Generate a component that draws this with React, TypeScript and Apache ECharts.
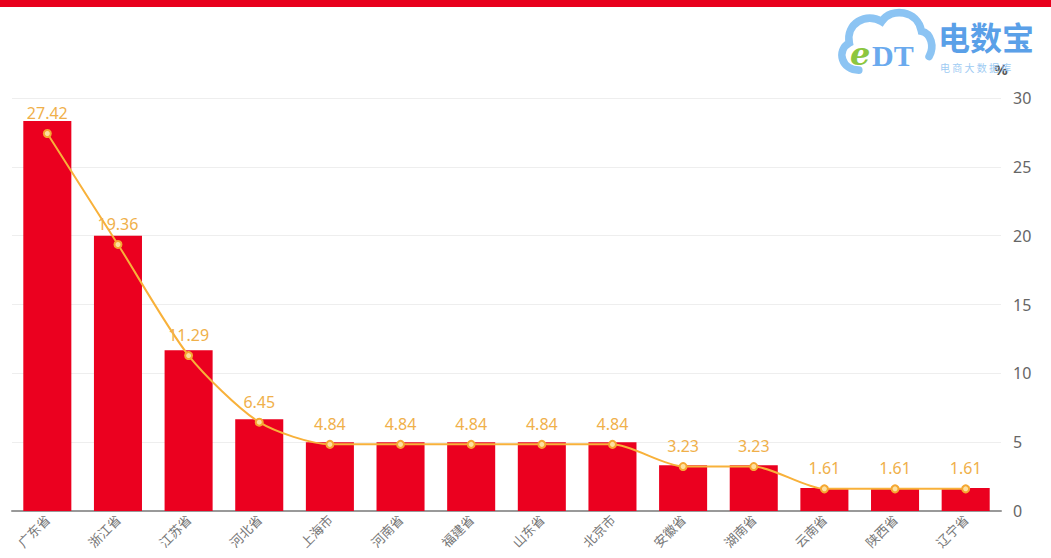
import React, { useEffect, useRef } from "react";
import * as echarts from "echarts";

const categories = ["广东省", "浙江省", "江苏省", "河北省", "上海市", "河南省", "福建省", "山东省", "北京市", "安徽省", "湖南省", "云南省", "陕西省", "辽宁省"];
const barValues = [28.33, 20, 11.67, 6.67, 5, 5, 5, 5, 5, 3.33, 3.33, 1.67, 1.67, 1.67];
const lineValues = [27.42, 19.36, 11.29, 6.45, 4.84, 4.84, 4.84, 4.84, 4.84, 3.23, 3.23, 1.61, 1.61, 1.61];
const yTicks = { min: 0, max: 30, interval: 5 };

const cloudD =
  "M24,64 C6,64 0,44 14,36 C10,16 32,4 48,14 C58,-1 86,2 90,24 C100,26 104,40 98,50";

export default function App() {
  const ref = useRef<HTMLDivElement>(null);
  useEffect(() => {
    if (!ref.current) return;
    try {
      echarts.graphic.registerShape("cloudLogo", echarts.graphic.extendPath(cloudD, {}) as any);
    } catch (e) {}
    const chart = echarts.init(ref.current, undefined, { renderer: "svg" });
    chart.setOption({
      animation: false,
      backgroundColor: "#fff",
      grid: { left: 12, right: 50, top: 98, bottom: 47, containLabel: false },
      xAxis: {
        type: "category",
        data: categories,
        axisLine: { lineStyle: { color: "#999", width: 2 } },
        axisTick: { show: false },
        axisLabel: { rotate: 45, interval: 0, color: "#777", fontSize: 13, fontFamily: "Noto Sans CJK SC", margin: 6 },
      },
      yAxis: {
        type: "value",
        position: "right",
        min: yTicks.min,
        max: yTicks.max,
        interval: yTicks.interval,
        name: "%",
        nameGap: 22,
        nameTextStyle: { color: "#555", fontSize: 15, fontWeight: "bold", fontFamily: "Noto Sans" },
        axisLine: { show: false },
        axisTick: { show: false },
        axisLabel: { color: "#666", fontSize: 16, margin: 12, fontFamily: "Noto Sans" },
        splitLine: { lineStyle: { color: "#eee" } },
      },
      series: [
        {
          type: "bar",
          data: barValues,
          barCategoryGap: "32%",
          itemStyle: { color: "#eb001f" },
        },
        {
          type: "line",
          data: lineValues,
          smooth: 0.25,
          symbol: "circle",
          symbolSize: 7,
          lineStyle: { color: "#f8b13a", width: 2 },
          itemStyle: { color: "#fde0a0", borderColor: "#f5a832", borderWidth: 2 },
          label: { show: true, position: "top", distance: 8, color: "#f0b04a", fontSize: 16, fontFamily: "Noto Sans" },
        },
      ],
      graphic: [
        { type: "rect", left: 0, top: 0, shape: { width: 1051, height: 7 }, style: { fill: "#e8001c" }, z: 10 },
        {
          type: "cloudLogo",
          x: 836,
          y: 8,
          scaleX: 0.95,
          scaleY: 0.97,
          style: { fill: null, stroke: "#8cc4f3", lineWidth: 8, lineCap: "round" },
          z: 5,
        },
        { type: "text", x: 850, y: 38, style: { text: "e", fill: "#8cc63f", font: "italic bold 32px 'DejaVu Serif'" }, z: 6 },
        { type: "text", x: 872, y: 40, style: { text: "DT", fill: "#6aaaee", font: "bold 30px 'Liberation Serif'" }, z: 6 },
        { type: "text", x: 938, y: 20, style: { text: "电数宝", fill: "#5aa0e8", font: "bold 32px 'Noto Sans CJK SC'" }, z: 6 },
        { type: "text", x: 940, y: 62, style: { text: "电 商 大 数 据 库", fill: "#9ecbf3", font: "10px 'Noto Sans CJK SC'" }, z: 6 },
      ],
    });
    return () => chart.dispose();
  }, []);
  return <div ref={ref} style={{ position: "fixed", left: 0, top: 0, width: 1051, height: 558 }} />;
}
